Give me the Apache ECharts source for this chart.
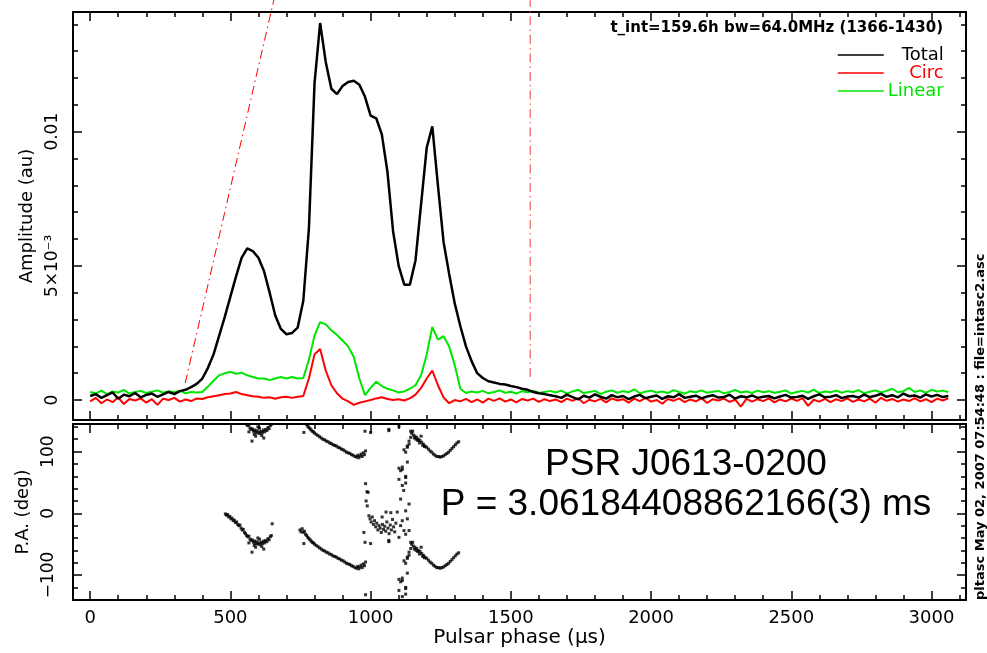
<!DOCTYPE html>
<html>
<head>
<meta charset="utf-8">
<script src="https://cdn.jsdelivr.net/npm/echarts@6/dist/echarts.min.js"></script>
<style>
  html, body { margin: 0; padding: 0; background: #fff; }
  #chart { width: 987px; height: 653px; }
</style>
</head>
<body>
<div id="chart"></div>
<script>
// Pulse profile of PSR J0613-0200, 20 us bins from 0 to 3060 us.
// Amplitudes are in units of 1e-3 (au).
const BIN_US = 20;

const totalMilli = [
  0.15,0.22,0.08,0.18,0.28,0.05,0.20,0.14,0.26,0.10,0.19,0.24,0.12,0.21,0.30,0.22,0.33,0.38,0.48,0.60,
  0.80,1.20,1.70,2.40,3.10,3.85,4.60,5.30,5.65,5.55,5.30,4.80,4.00,3.15,2.65,2.45,2.50,2.70,3.70,6.40,
  11.80,14.05,12.60,11.60,11.40,11.70,11.85,11.90,11.75,11.30,10.60,10.50,9.90,8.50,6.30,5.00,4.30,4.30,5.20,7.30,
  9.40,10.20,8.00,5.90,4.70,3.60,2.75,2.00,1.45,1.00,0.82,0.70,0.65,0.60,0.58,0.52,0.48,0.42,0.38,0.30,
  0.25,0.22,0.18,
  0.14,0.08,0.20,0.11,0.02,0.16,0.09,0.21,0.12,0.05,
  0.18,0.10,0.15,0.03,0.13,0.19,0.07,0.12,0.17,0.04,
  0.14,0.10,0.22,0.08,0.12,0.16,0.06,0.13,0.18,0.09,
  0.11,0.20,0.05,0.14,0.10,0.17,0.08,0.12,0.15,0.06,
  0.13,0.19,0.09,0.11,0.16,0.04,0.14,0.21,0.10,0.12,
  0.18,0.07,0.13,0.15,0.09,0.20,0.11,0.16,0.23,0.12,
  0.18,0.10,0.24,0.14,0.17,0.09,0.21,0.13,0.19,0.11,0.15
];

const circMilli = [
  -0.05,0.08,-0.12,0.02,-0.08,0.10,-0.15,0.04,-0.02,0.06,-0.10,0.03,-0.18,0.05,0.00,0.08,-0.06,0.02,-0.04,0.06,
  0.04,0.10,0.14,0.18,0.22,0.24,0.30,0.22,0.18,0.14,0.12,0.08,0.10,0.05,0.10,0.12,0.08,0.12,0.15,0.80,
  1.70,1.90,1.10,0.55,0.25,0.05,-0.05,-0.18,-0.10,-0.05,0.00,0.06,0.10,0.04,0.00,0.03,-0.02,0.06,0.20,0.45,
  0.80,1.10,0.55,0.10,-0.12,0.00,-0.05,0.04,-0.08,0.02,-0.10,0.05,-0.03,0.06,-0.06,0.02,-0.09,0.04,-0.02,0.05,
  -0.07,0.03,-0.04,
  0.02,-0.08,0.05,-0.03,0.07,-0.12,0.01,-0.05,0.04,-0.09,
  0.06,-0.02,0.03,-0.10,0.05,-0.04,0.08,-0.06,0.00,-0.14,
  0.04,-0.03,0.06,-0.08,0.02,-0.05,0.07,-0.11,0.03,-0.02,
  0.05,-0.07,0.01,-0.25,0.04,-0.06,0.03,-0.04,0.06,-0.09,
  0.02,-0.05,0.05,-0.03,0.07,-0.22,0.01,-0.06,0.04,-0.08,
  0.03,-0.04,0.06,-0.07,0.02,-0.05,0.05,-0.10,0.08,-0.03,
  0.04,-0.06,0.02,-0.04,0.07,-0.05,0.03,-0.08,0.05,-0.02,0.06
];

const linearMilli = [
  0.30,0.25,0.35,0.22,0.32,0.28,0.38,0.24,0.30,0.34,0.26,0.31,0.36,0.27,0.33,0.29,0.35,0.25,0.30,0.28,
  0.30,0.50,0.72,0.92,1.00,1.05,0.98,1.02,0.92,0.86,0.80,0.80,0.74,0.80,0.86,0.80,0.86,0.80,0.82,1.50,
  2.40,2.90,2.82,2.60,2.42,2.22,2.00,1.60,0.80,0.18,0.45,0.68,0.52,0.42,0.36,0.28,0.32,0.42,0.55,0.92,
  1.70,2.72,2.25,2.38,2.00,1.30,0.42,0.26,0.32,0.28,0.34,0.25,0.30,0.36,0.27,0.31,0.24,0.33,0.29,0.35,
  0.26,0.30,0.34,
  0.28,0.35,0.24,0.32,0.38,0.26,0.30,0.34,0.22,0.31,
  0.36,0.27,0.33,0.29,0.40,0.25,0.31,0.35,0.28,0.32,
  0.26,0.37,0.30,0.24,0.33,0.29,0.36,0.27,0.31,0.34,
  0.25,0.30,0.38,0.28,0.32,0.26,0.35,0.29,0.33,0.27,
  0.31,0.36,0.24,0.30,0.34,0.28,0.39,0.26,0.32,0.29,
  0.35,0.27,0.33,0.30,0.37,0.25,0.31,0.36,0.28,0.34,
  0.42,0.29,0.33,0.45,0.30,0.36,0.27,0.38,0.32,0.35,0.30
];

// Position angle measurements [phase (us), PA (deg)]; drawn together with the +/-180 deg equivalents.
const paPoints = [
  [482,-1],[486,-3],[490,-2],[494,-6],[498,-5],[502,-9],[506,-8],[510,-12],[514,-11],[518,-15],[522,-14],[526,-18],
  [530,-20],[534,-19],[538,-24],[542,-27],[546,-26],[550,-31],[554,-33],[558,-36],[562,-38],[566,-37],[570,-42],
  [574,-44],[578,-43],[582,-47],[586,-45],[590,-49],[594,-46],[598,-50],[602,-48],[606,-51],[610,-47],[614,-49],
  [618,-45],[622,-48],[626,-44],[630,-46],[634,-41],[638,-43],[642,-38],[646,-36],[577,-63],[619,-58],[598,-40],
  [590,-55],[612,-54],[604,-42],[566,-48],[585,-52],[649,-17],
  [762,-49],
  [748,-27],[752,-30],[756,-25],[760,-31],[764,-29],[768,-34],[772,-36],[776,-39],[780,-41],[784,-43],[788,-45],
  [792,-47],[796,-48],[800,-50],[806,-52],[812,-54],[818,-56],[824,-58],[830,-60],[836,-61],[842,-63],[848,-64],
  [854,-66],[860,-67],[866,-69],[872,-70],[878,-71],[884,-73],[890,-74],[896,-76],[902,-77],[908,-79],[914,-81],
  [920,-82],[926,-83],[932,-85],[938,-86],[944,-88],[950,-89],[954,-86],[958,-90],[962,-87],[966,-84],[970,-88],
  [974,-82],[978,-85],[982,-79],
  [976,-31],[980,-47],[982,48],[987,35],[991,34],[984,20],[988,12],[1000,-49],
  [994,-4],[998,-9],[1002,-14],[1006,-6],[1010,-18],[1014,-12],[1018,-22],[1022,-16],[1026,-27],[1030,-20],
  [1034,-24],[1038,-31],[1042,-18],[1046,-26],[1050,-21],[1054,-29],[1058,-14],[1062,-24],[1066,-33],[1070,-19],
  [1074,-27],[1078,-10],[1082,-22],[1086,-30],[1090,-16],[1041,-6],[1065,-44],[1065,-46],[1055,2],[1072,1],
  [1095,2],[1101,-39],[1107,-20],[1113,-12],[1119,-28],[1125,4],[1125,-34],[1131,-9],[1137,-28],[1137,15],[1143,-47],
  [1107,23],[1118,37],[1113,45],[1125,58],[1113,75],[1107,69],[1131,83],[1101,73],[1113,71],[1101,55],[1125,60],[1125,49],
  [1125,-81],[1131,-73],[1137,-68],[1143,-57],[1119,-77],[1131,-71],[1137,-63],
  [1146,-50],[1150,-47],[1152,-53],[1156,-58],[1158,-55],[1162,-60],[1164,-57],[1168,-62],[1170,-60],[1174,-66],
  [1176,-62],[1180,-55],[1182,-65],[1186,-70],[1188,-68],[1192,-72],[1194,-71],[1200,-73],[1206,-76],[1212,-79],
  [1218,-81],[1224,-84],[1230,-86],[1236,-88],[1242,-88],[1248,-89],[1254,-88],[1260,-87],[1266,-85],[1272,-83],
  [1278,-81],[1284,-78],[1290,-75],[1296,-72],[1302,-69],[1308,-66],[1314,-64]
];

// Dash-dot guide lines [phase (us), amplitude (1e-3)]
const guideSlant = [[339, 0.63], [657, 15.0]];
const guideVertical = [[1569, 0.86], [1569, 15.0]];

// Axis ticks and labels
const phaseMajor = [0, 500, 1000, 1500, 2000, 2500, 3000];
const phaseLabels = ['0', '500', '1000', '1500', '2000', '2500', '3000'];
const ampMajor = [0, 5, 10];
const ampLabels = ['0', '5×10⁻³', '0.01'];
const paMajor = [-100, 0, 100];
const paLabels = ['−100', '0', '100'];

const PHASE_MIN = -61.2, PHASE_MAX = 3123;
const AMP_MIN = -0.745, AMP_MAX = 14.46;
const PA_MIN = -140.5, PA_MAX = 144.7;

const phaseMinor = [];
for (let v = 0; v <= 3100; v += 100) phaseMinor.push(v);
const ampMinor = [];
for (let v = 0; v <= 14; v += 1) ampMinor.push(v);
const paMinor = [];
for (let v = -140; v <= 140; v += 20) paMinor.push(v);

const phaseUs = totalMilli.map((_, i) => i * BIN_US);
const pairs = arr => arr.map((v, i) => [phaseUs[i], v]);

const FONT = '"DejaVu Sans", sans-serif';

function makeAxis(o) {
  const ax = {
    type: 'value', gridIndex: o.grid, position: o.pos, min: o.min, max: o.max,
    axisLine: { show: !!o.line, onZero: false, lineStyle: { color: '#000', width: 2 } },
    axisTick: { show: true, inside: true, length: o.len, customValues: o.ticks,
                lineStyle: { color: '#000', width: 1.5 } },
    axisLabel: { show: false },
    splitLine: { show: false },
    silent: true
  };
  if (o.label) {
    ax.axisLabel = Object.assign({ show: true, customValues: o.ticks, color: '#000',
                                   fontFamily: FONT }, o.label);
  }
  if (o.name) {
    ax.name = o.name;
    ax.nameLocation = 'middle';
    ax.nameGap = o.nameGap;
    ax.nameRotate = o.nameRotate;
    ax.nameTextStyle = { color: '#000', fontFamily: FONT, fontSize: o.nameSize };
  }
  return ax;
}

const xAxes = [];
const yAxes = [];
[0, 1].forEach(g => {
  const bottomLabel = g === 1 ? {
    fontSize: 18, margin: 9,
    formatter: v => phaseLabels[phaseMajor.indexOf(v)]
  } : null;
  xAxes.push(makeAxis({ grid: g, pos: 'bottom', min: PHASE_MIN, max: PHASE_MAX, line: true, len: 9,
    ticks: phaseMajor, label: bottomLabel,
    name: g === 1 ? 'Pulsar phase (μs)' : null, nameGap: 22, nameSize: 20 }));
  xAxes.push(makeAxis({ grid: g, pos: 'bottom', min: PHASE_MIN, max: PHASE_MAX, len: 5, ticks: phaseMinor }));
  xAxes.push(makeAxis({ grid: g, pos: 'top', min: PHASE_MIN, max: PHASE_MAX, line: true, len: 9, ticks: phaseMajor }));
  xAxes.push(makeAxis({ grid: g, pos: 'top', min: PHASE_MIN, max: PHASE_MAX, len: 5, ticks: phaseMinor }));

  const yMin = g === 0 ? AMP_MIN : PA_MIN;
  const yMax = g === 0 ? AMP_MAX : PA_MAX;
  const major = g === 0 ? ampMajor : paMajor;
  const minor = g === 0 ? ampMinor : paMinor;
  const labels = g === 0 ? ampLabels : paLabels;
  yAxes.push(makeAxis({ grid: g, pos: 'left', min: yMin, max: yMax, line: true, len: 9, ticks: major,
    label: { fontSize: 17, rotate: 90, margin: g === 0 ? 12 : 16,
             formatter: v => labels[major.indexOf(v)] },
    name: g === 0 ? 'Amplitude (au)' : 'P.A. (deg)', nameGap: 37, nameRotate: 90, nameSize: 18 }));
  yAxes.push(makeAxis({ grid: g, pos: 'left', min: yMin, max: yMax, len: 5, ticks: minor }));
  yAxes.push(makeAxis({ grid: g, pos: 'right', min: yMin, max: yMax, line: true, len: 9, ticks: major }));
  yAxes.push(makeAxis({ grid: g, pos: 'right', min: yMin, max: yMax, len: 5, ticks: minor }));
});

const paDisplayed = [];
paPoints.forEach(([p, a]) => {
  paDisplayed.push([p, a], [p, a + 180], [p, a - 180]);
});

const legendColors = { Total: '#000000', Circ: '#ff0000', Linear: '#00e600' };
const legendRich = {};
Object.keys(legendColors).forEach(k => {
  legendRich[k] = { color: legendColors[k], width: 55, align: 'right', fontFamily: FONT,
                    fontSize: 18, lineHeight: 19 };
});

const option = {
  animation: false,
  backgroundColor: '#ffffff',
  grid: [
    { left: 73, top: 12, width: 893, height: 408, containLabel: false },
    { left: 73, top: 424, width: 893, height: 176, containLabel: false }
  ],
  xAxis: xAxes,
  yAxis: yAxes,
  legend: {
    orient: 'vertical', left: 832, top: 41, itemWidth: 46, itemHeight: 12, itemGap: 0,
    selectedMode: false,
    data: ['Total', 'Circ', 'Linear'],
    itemStyle: { opacity: 0 },
    lineStyle: { width: 1.5 },
    formatter: name => '{' + name + '|' + name + '}',
    textStyle: { fontFamily: FONT, fontSize: 18, rich: legendRich }
  },
  series: [
    {
      name: 'Linear', type: 'line', xAxisIndex: 0, yAxisIndex: 0, data: pairs(linearMilli),
      symbol: 'none', color: legendColors.Linear, lineStyle: { color: legendColors.Linear, width: 2 }, z: 2
    },
    {
      name: 'Circ', type: 'line', xAxisIndex: 0, yAxisIndex: 0, data: pairs(circMilli),
      symbol: 'none', color: legendColors.Circ, lineStyle: { color: legendColors.Circ, width: 2 }, z: 3
    },
    {
      name: 'Total', type: 'line', xAxisIndex: 0, yAxisIndex: 0, data: pairs(totalMilli),
      symbol: 'none', color: legendColors.Total, lineStyle: { color: legendColors.Total, width: 2.5 }, z: 4
    },
    {
      name: 'guide-a', type: 'line', xAxisIndex: 0, yAxisIndex: 0, data: guideSlant, clip: false,
      symbol: 'none', lineStyle: { color: '#ff0000', width: 1, type: [9, 4, 1.5, 4] }, z: 5
    },
    {
      name: 'guide-b', type: 'line', xAxisIndex: 0, yAxisIndex: 0, data: guideVertical, clip: false,
      symbol: 'none', lineStyle: { color: '#f03c3c', width: 1, type: [9, 4, 1.5, 4] }, z: 5
    },
    {
      name: 'PA', type: 'scatter', xAxisIndex: 4, yAxisIndex: 4, data: paDisplayed, clip: true,
      symbol: 'rect', symbolSize: 3, itemStyle: { color: '#000' }
    }
  ],
  graphic: [
    {
      type: 'text', x: 943, y: 28,
      style: { text: 't_int=159.6h bw=64.0MHz (1366-1430)', align: 'right', verticalAlign: 'middle',
               font: 'bold 15px "DejaVu Sans"', fill: '#000' }
    },
    {
      type: 'text', x: 686, y: 465,
      style: { text: 'PSR J0613-0200', align: 'center', verticalAlign: 'middle',
               font: '37px "Liberation Sans"', fill: '#000' }
    },
    {
      type: 'text', x: 686, y: 505,
      style: { text: 'P = 3.06184408862166(3) ms', align: 'center', verticalAlign: 'middle',
               font: '37px "Liberation Sans"', fill: '#000' }
    },
    {
      type: 'text', x: 981, y: 600, rotation: Math.PI / 2,
      style: { text: 'pltasc May 02, 2007 07:54:48 : file=intasc2.asc', align: 'left', verticalAlign: 'middle',
               font: 'bold 13px "DejaVu Sans"', fill: '#000' }
    }
  ]
};

const chart = echarts.init(document.getElementById('chart'), null, { renderer: 'canvas' });
chart.setOption(option);
</script>
</body>
</html>
